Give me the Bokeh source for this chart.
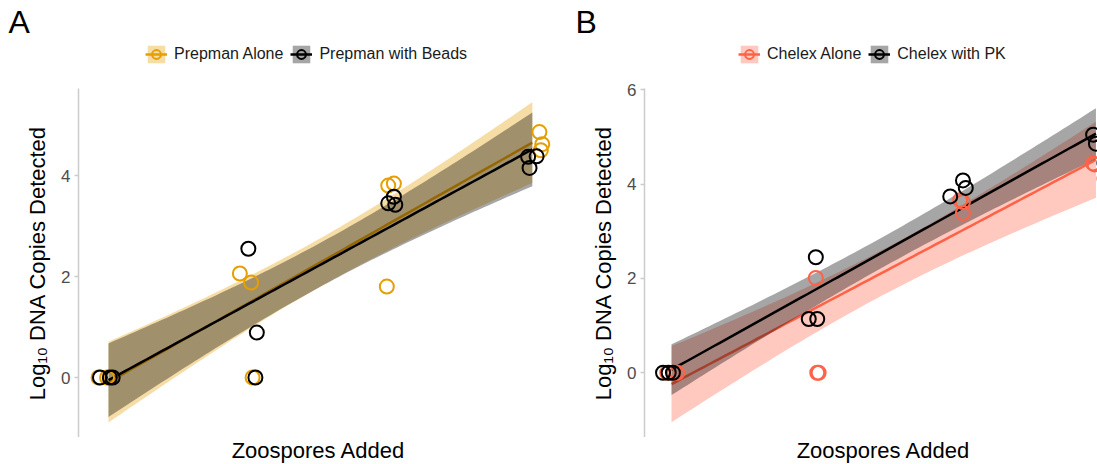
import numpy as np
from bokeh.plotting import figure
from bokeh.layouts import row, column
from bokeh.models import Range1d, Legend, LegendItem, FixedTicker
from bokeh.core.properties import value
from bokeh.embed import file_html
from bokeh.resources import INLINE

FONT = "Liberation Sans"

# ---------------- data ----------------
# dose level (log-spaced zoospore additions, equally spaced on the axis)
dose = [0, 0, 0, 1, 1, 1, 2, 2, 2, 3, 3, 3]

# Panel A
prepman_alone_jitter = [-0.07, -0.01, 0.01, -0.07, 0.01, 0.02, -0.02, 0.02, -0.03, 0.05, 0.07, 0.06]
prepman_alone_y = [0.0, 0.0, 0.0, 2.06, 1.88, 0.0, 3.80, 3.84, 1.80, 4.86, 4.62, 4.50]
prepman_beads_jitter = [-0.06, 0.01, 0.03, -0.01, 0.05, 0.04, -0.02, 0.02, 0.03, -0.03, 0.03, -0.02]
prepman_beads_y = [0.0, 0.0, 0.0, 2.55, 0.89, 0.0, 3.45, 3.58, 3.42, 4.37, 4.38, 4.15]

# Panel B
chelex_alone_jitter = [-0.03, 0.02, 0.04, 0.02, 0.04, 0.03, 0.04, 0.06, 0.06, -0.02, -0.01, 0.06]
chelex_alone_y = [0.0, 0.0, 0.0, 2.01, 0.0, 0.0, 3.66, 3.62, 3.39, 4.44, 4.42, 4.12]
chelex_pk_jitter = [-0.06, -0.02, 0.01, 0.02, -0.03, 0.03, 0.06, 0.08, -0.03, -0.02, 0.00, 0.06]
chelex_pk_y = [0.0, 0.0, 0.0, 2.45, 1.14, 1.14, 4.08, 3.92, 3.74, 5.05, 4.86, 4.45]

labels_A = ["Prepman Alone", "Prepman with Beads"]
labels_B = ["Chelex Alone", "Chelex with PK"]
ticks_A = [0, 2, 4]
ticks_B = [0, 2, 4, 6]
y_title = "Log\u2081\u2080 DNA Copies Detected"
x_title = "Zoospores Added"

ORANGE = "#E69F00"
TOMATO = "#FF6347"
BLACK = "#000000"
BAND_ALPHA = 0.35
T975_DF10 = 2.228  # Student t quantile for 95% CI, 10 d.f.


def fit_band(x, y, n=80):
    x = np.asarray(x, float)
    y = np.asarray(y, float)
    X = np.column_stack([np.ones_like(x), x])
    beta, *_ = np.linalg.lstsq(X, y, rcond=None)
    resid = y - X @ beta
    dof = len(y) - 2
    s = np.sqrt(resid @ resid / dof)
    xs = np.linspace(x.min(), x.max(), n)
    fit = beta[0] + beta[1] * xs
    se = s * np.sqrt(1.0 / len(y) + (xs - x.mean()) ** 2 / ((x - x.mean()) ** 2).sum())
    return xs, fit, fit - T975_DF10 * se, fit + T975_DF10 * se


def blank(width, height):
    f = figure(width=width, height=height, output_backend="svg", toolbar_location=None,
               x_range=Range1d(0, width), y_range=Range1d(height, 0),
               x_axis_location=None, y_axis_location=None,
               min_border_left=0, min_border_right=0, min_border_top=0, min_border_bottom=0)
    f.xgrid.visible = False
    f.ygrid.visible = False
    f.outline_line_color = None
    return f


def header(letter, series, width, letter_left, legend_left):
    h = blank(width, 80)
    h.text(x=[letter_left], y=[21], text=[letter], text_font=value(FONT),
           text_font_size="32px", text_color="#000000", text_baseline="alphabetic",
           text_align="left")
    items = []
    for name, color in series:
        # legend key proxies, kept outside the visible header area
        band = h.varea(x=[-60, -50], y1=[-60, -60], y2=[-50, -50],
                       fill_color=color, fill_alpha=BAND_ALPHA)
        line = h.line(x=[-60, -50], y=[-60, -60], line_color=color, line_width=2.5)
        pts = h.scatter(x=[-60], y=[-60], marker="circle", size=14, fill_color=None,
                        line_color=color, line_width=2)
        items.append(LegendItem(label=name, renderers=[band, line, pts]))
    legend = Legend(items=items, orientation="horizontal", location=(legend_left, 15),
                    glyph_width=22, glyph_height=22, label_standoff=7, spacing=7,
                    padding=0, margin=0, border_line_alpha=0, background_fill_alpha=0,
                    label_text_font=FONT, label_text_font_size="16px",
                    label_text_color="#1a1a1a")
    h.add_layout(legend)
    return h


def footer(width, center):
    f = blank(width, 27)
    f.text(x=[center], y=[13], text=[x_title], text_font=value(FONT),
           text_font_size="22px", text_color="#000000", text_baseline="alphabetic",
           text_align="center")
    return f


def make_panel(series, x_range, y_range, ticks, width, border_left):
    p = figure(width=width, height=357, output_backend="svg", toolbar_location=None,
               x_range=Range1d(*x_range), y_range=Range1d(*y_range),
               x_axis_location=None, min_border_left=border_left, min_border_right=0,
               min_border_top=8, min_border_bottom=0)
    p.xgrid.visible = False
    p.ygrid.visible = False
    p.outline_line_color = None

    ax = p.yaxis[0]
    ax.ticker = FixedTicker(ticks=ticks, minor_ticks=[])
    ax.axis_line_color = "#cccccc"
    ax.axis_line_width = 1.5
    ax.major_tick_line_color = "#cccccc"
    ax.major_tick_line_width = 1.5
    ax.major_tick_out = 4
    ax.major_tick_in = 0
    ax.major_label_standoff = 4
    ax.major_label_text_font = FONT
    ax.major_label_text_font_size = "17px"
    ax.major_label_text_color = "#4d4d4d"
    ax.axis_label = y_title
    ax.axis_label_text_font = FONT
    ax.axis_label_text_font_size = "22px"
    ax.axis_label_text_font_style = "normal"
    ax.axis_label_text_color = "#000000"
    ax.axis_label_standoff = 8

    for name, color, jit, y in series:
        xs, fit, lo, hi = fit_band(dose, y)
        p.varea(x=xs, y1=lo, y2=hi, fill_color=color, fill_alpha=BAND_ALPHA)
        p.line(xs, fit, line_color=color, line_width=2.5)
    for name, color, jit, y in series:
        xp = np.asarray(dose, float) + np.asarray(jit, float)
        p.scatter(xp, y, marker="circle", size=14, fill_color=None,
                  line_color=color, line_width=2)
    return p


series_A = [(labels_A[0], ORANGE, prepman_alone_jitter, prepman_alone_y),
            (labels_A[1], BLACK, prepman_beads_jitter, prepman_beads_y)]
series_B = [(labels_B[0], TOMATO, chelex_alone_jitter, chelex_alone_y),
            (labels_B[1], BLACK, chelex_pk_jitter, chelex_pk_y)]

pA = make_panel(series_A, (-0.212, 3.185), (-1.188, 5.723), ticks_A, 558, 78)
pB = make_panel(series_B, (-0.191, 3.011), (-1.374, 6.03), ticks_B, 539, 86)
hA = header("A", [(s[0], s[1]) for s in series_A], 558, 8, 145)
hB = header("B", [(s[0], s[1]) for s in series_B], 539, 17, 180)
fA = footer(558, 318)
fB = footer(539, 325)

layout = column(row(hA, hB), row(pA, pB), row(fA, fB))
open("out.html", "w").write(file_html(layout, INLINE))
